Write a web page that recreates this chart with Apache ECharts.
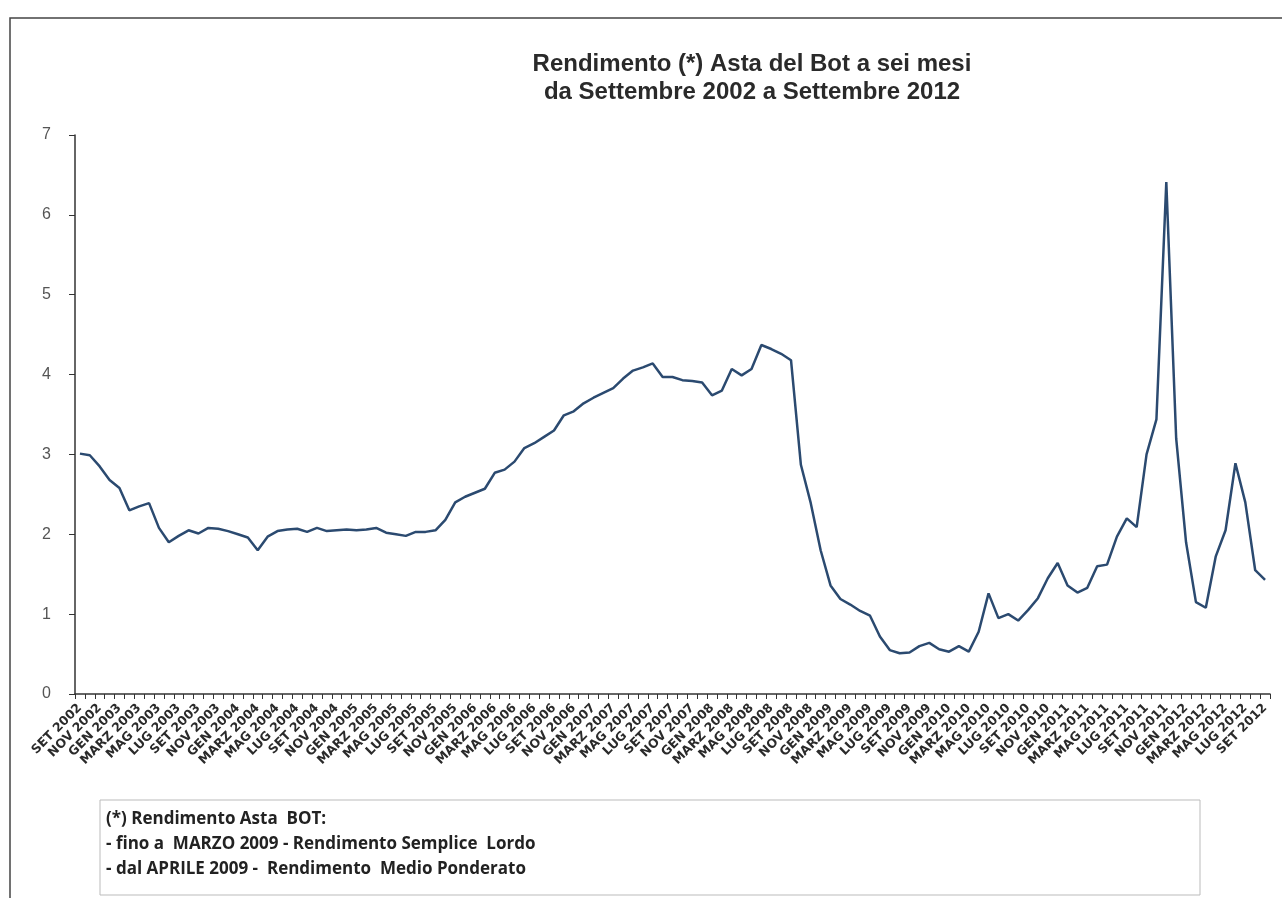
<!DOCTYPE html>
<html>
<head>
<meta charset="utf-8">
<style>
  html, body { margin: 0; padding: 0; background: #fff; }
  #chart { width: 1282px; height: 898px; }
</style>
<script src="https://cdn.jsdelivr.net/npm/echarts@6/dist/echarts.min.js"></script>
</head>
<body>
<div id="chart"></div>
<script>
// mesi (abbreviazioni come nel grafico originale)
var mesi = ['GEN', 'FEB', 'MARZ', 'APR', 'MAG', 'GIU', 'LUG', 'AGO', 'SET', 'OTT', 'NOV', 'DIC'];

// categorie: da SET 2002 a SET 2012
var categorie = [];
for (var a = 2002; a <= 2012; a++) {
    for (var m = 0; m < 12; m++) {
        if (a === 2002 && m < 8) continue;
        if (a === 2012 && m > 8) continue;
        categorie.push(mesi[m] + ' ' + a);
    }
}

// rendimento asta BOT 6 mesi (%)
var rendimento = [
    3.01, 2.99, 2.85, 2.68, 2.58, 2.30, 2.35, 2.39, 2.08, 1.90,
    1.98, 2.05, 2.01, 2.08, 2.07, 2.04, 2.00, 1.96, 1.80, 1.97,
    2.04, 2.06, 2.07, 2.03, 2.08, 2.04, 2.05, 2.06, 2.05, 2.06,
    2.08, 2.02, 2.00, 1.98, 2.03, 2.03, 2.05, 2.18, 2.40, 2.47,
    2.52, 2.57, 2.77, 2.81, 2.91, 3.08, 3.14, 3.22, 3.30, 3.49,
    3.54, 3.64, 3.71, 3.77, 3.83, 3.95, 4.05, 4.09, 4.14, 3.97,
    3.97, 3.93, 3.92, 3.90, 3.74, 3.80, 4.07, 3.99, 4.07, 4.37,
    4.32, 4.26, 4.18, 2.87, 2.39, 1.80, 1.36, 1.19, 1.12, 1.04,
    0.98, 0.72, 0.55, 0.51, 0.52, 0.60, 0.64, 0.56, 0.53, 0.60,
    0.53, 0.78, 1.26, 0.95, 1.00, 0.92, 1.05, 1.20, 1.45, 1.64,
    1.36, 1.27, 1.33, 1.60, 1.62, 1.97, 2.20, 2.09, 3.00, 3.44,
    6.41, 3.20, 1.90, 1.15, 1.08, 1.72, 2.05, 2.89, 2.40, 1.55,
    1.43
];

// nota in basso
var nota = [
    '(*) Rendimento Asta  BOT:',
    '- fino a  MARZO 2009 - Rendimento Semplice  Lordo',
    '- dal APRILE 2009 -  Rendimento  Medio Ponderato'
];

var chart = echarts.init(document.getElementById('chart'));

var option = {
    backgroundColor: '#fff',
    animation: false,
    title: {
        text: 'Rendimento (*) Asta del Bot a sei mesi\nda Settembre 2002 a Settembre 2012',
        left: 747,
        top: 45,
        textAlign: 'center',
        textStyle: {
            fontFamily: 'Liberation Sans, Arial',
            fontSize: 24,
            fontWeight: 'bold',
            color: '#2a2a2a',
            lineHeight: 28
        }
    },
    grid: {
        left: 75,
        right: 12,
        top: 135,
        bottom: 204
    },
    xAxis: {
        type: 'category',
        data: categorie,
        boundaryGap: true,
        axisLine: { lineStyle: { color: '#333', width: 1.5 } },
        axisTick: { show: true, interval: 0, length: 5, lineStyle: { color: '#333' } },
        axisLabel: {
            interval: 1,
            rotate: 45,
            margin: 12,
            fontFamily: 'DejaVu Sans',
            fontSize: 12.5,
            fontWeight: 'bold',
            color: '#2a2a2a'
        },
        splitLine: { show: false }
    },
    yAxis: {
        type: 'value',
        min: 0,
        max: 7,
        interval: 1,
        axisLine: { show: true, lineStyle: { color: '#333', width: 1.5 } },
        axisTick: { show: true, length: 6, lineStyle: { color: '#333' } },
        axisLabel: {
            margin: 24,
            fontFamily: 'Liberation Sans, Arial',
            fontSize: 16,
            color: '#555'
        },
        splitLine: { show: false }
    },
    series: [{
        name: 'Rendimento',
        type: 'line',
        data: rendimento,
        showSymbol: false,
        lineStyle: { color: '#2b4a70', width: 2.5 }
    }],
    graphic: [
        {
            // cornice del grafico
            type: 'rect',
            shape: { x: 10, y: 18, width: 1300, height: 900 },
            style: { fill: null, stroke: '#444', lineWidth: 1.5 },
            silent: true
        },
        {
            type: 'rect',
            shape: { x: 100, y: 800, width: 1100, height: 95 },
            style: { fill: '#fff', stroke: '#bbb', lineWidth: 1 },
            silent: true
        },
        {
            type: 'text',
            left: 106,
            top: 807,
            style: {
                text: nota.join('\n'),
                fontFamily: 'Open Sans, Lato',
                fontSize: 17,
                fontWeight: 'bold',
                lineHeight: 25,
                fill: '#222'
            },
            silent: true
        }
    ]
};

chart.setOption(option);
</script>
</body>
</html>
